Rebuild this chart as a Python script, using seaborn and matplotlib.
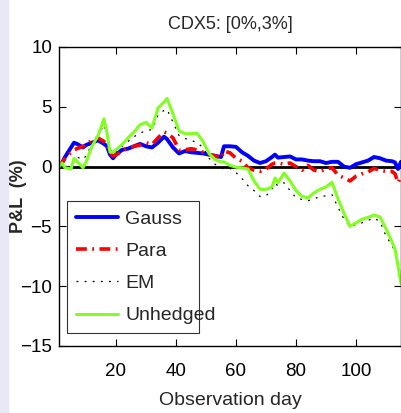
import matplotlib
matplotlib.use("Agg")
import matplotlib.pyplot as plt
import seaborn as sns
import pandas as pd

# observation days and P&L (%)
days = [1, 2, 3, 5, 6, 7, 9, 10, 12, 14, 16, 17, 18, 19, 20, 22, 24, 26, 28, 30,
        32, 34, 36, 37, 39, 41, 43, 45, 47, 49, 51, 53, 55, 56, 58, 60, 62, 64, 66, 68,
        70, 72, 73, 74, 76, 78, 80, 82, 84, 86, 88, 90, 92, 94, 96, 98, 100, 102, 104, 106,
        108, 110, 112, 113, 114, 115]

gauss = [0.0, 0.3, 0.8, 1.6, 2.0, 1.9, 1.6, 1.8, 2.0, 2.2, 1.9, 1.7, 1.0, 0.7, 1.0, 1.4, 1.5, 1.7, 1.9, 1.7,
         1.6, 2.0, 2.5, 2.3, 1.6, 1.1, 1.3, 1.2, 1.15, 1.1, 1.0, 0.9, 0.8, 1.7, 1.7, 1.65, 1.2, 0.9, 0.5, 0.3,
         0.45, 0.8, 1.0, 0.75, 0.8, 0.85, 0.6, 0.6, 0.5, 0.45, 0.45, 0.3, 0.4, 0.4, 0.0, -0.1, 0.2, 0.35, 0.5, 0.8,
         0.7, 0.5, 0.45, 0.35, -0.2, 0.4]

para = [0.0, 0.3, 0.7, 1.2, 1.4, 1.5, 1.7, 1.85, 2.2, 2.4, 2.1, 1.8, 1.2, 0.9, 1.0, 1.3, 1.55, 1.7, 1.8, 2.0,
        1.85, 2.4, 2.9, 2.8, 2.4, 1.4, 1.4, 1.5, 1.4, 1.2, 1.0, 0.9, 0.7, 1.3, 1.15, 0.7, 0.45, -0.1, -0.3, -0.4,
        -0.2, 0.2, 0.3, 0.3, 0.2, 0.3, 0.0, -0.3, 0.1, -0.3, -0.4, -0.2, -0.1, -0.7, -0.95, -1.2, -0.8, -0.6, -0.45, -0.15,
        -0.3, -0.4, -0.4, -0.6, -1.35, -0.8]

em = [0.0, 0.1, -0.1, 0.2, 0.4, 0.8, 0.6, 0.9, 1.9, 2.6, 3.5, 2.6, 1.7, 1.0, 1.2, 1.7, 2.1, 2.5, 2.8, 3.0,
      3.1, 4.3, 4.7, 4.8, 3.7, 2.6, 2.35, 2.2, 2.0, 1.6, 0.7, 0.2, -0.1, -0.2, -0.15, -0.5, -1.0, -1.6, -2.0, -2.5,
      -2.45, -1.9, -1.4, -1.6, -1.35, -2.0, -2.6, -2.75, -2.85, -2.7, -2.5, -2.45, -2.35, -3.4, -4.4, -5.0, -4.85, -4.7, -4.5, -4.3,
      -4.6, -5.8, -6.6, -7.1, -7.9, -9.5]

unhedged = [0.0, 0.3, -0.1, -0.2, 0.7, 0.45, -0.1, 0.4, 1.7, 2.6, 4.0, 2.8, 1.2, 1.2, 1.4, 1.85, 2.4, 2.9, 3.5, 3.7,
            3.25, 4.9, 5.4, 5.7, 4.4, 3.0, 2.75, 2.75, 2.8, 2.1, 1.1, 0.6, 0.4, 0.4, 0.1, -0.05, -0.1, -0.2, -1.2, -1.9,
            -1.9, -1.7, -0.95, -1.35, -0.55, -1.2, -2.0, -2.5, -2.6, -2.2, -1.9, -1.7, -1.3, -2.7, -3.9, -5.0, -4.7, -4.4, -4.25, -4.05,
            -4.2, -5.2, -6.3, -6.9, -8.3, -9.8]

sns.set_style("ticks")
plt.rcParams["font.family"] = ["Liberation Sans", "DejaVu Sans"]

fig = plt.figure(figsize=(4.02, 4.13), dpi=100)
fig.patches.append(plt.Rectangle((0, 0), 8 / 402, 1, transform=fig.transFigure,
                                 color="#e8e8f6", zorder=-1))
ax = fig.add_axes([59 / 402, 1 - 346 / 413, 342 / 402, 299 / 413])

df = pd.DataFrame({"day": days, "Gauss": gauss, "Para": para, "EM": em, "Unhedged": unhedged})

ax.axhline(0, color="black", lw=2, zorder=1)
sns.lineplot(data=df, x="day", y="Gauss", ax=ax, color="#0000ff", lw=2.8, label="Gauss")
sns.lineplot(data=df, x="day", y="Para", ax=ax, color="#ff0000", lw=2.6,
             label="Para").lines[-1].set_dashes((3, 1.5, 0.5, 1.5))
sns.lineplot(data=df, x="day", y="EM", ax=ax, color="black", lw=0.9, label="EM").lines[-1].set_dashes((1.5, 5))
sns.lineplot(data=df, x="day", y="Unhedged", ax=ax, color="#80ff20", lw=2.2, label="Unhedged")

ax.set_xlim(1, 115)
ax.set_ylim(-15, 10)
ax.set_xticks([20, 40, 60, 80, 100])
ax.set_yticks([-15, -10, -5, 0, 5, 10])
ax.set_yticklabels(["\u221215", "\u221210", "\u22125", "0", "5", "10"])
ax.tick_params(direction="in", length=5, width=0.8, top=True, right=True, labelsize=13.5, colors="black")
ax.tick_params(axis="x", pad=12)
ax.tick_params(axis="y", pad=5)
for s in ax.spines.values():
    s.set_visible(True)
    s.set_linewidth(1)
    s.set_color("black")

ax.set_title("CDX5: [0%,3%]", fontsize=13, pad=13)
ax.set_xlabel("Observation day", fontsize=14, labelpad=9)
ax.set_ylabel("P&L  (%)", fontsize=13, fontweight="bold")
ax.yaxis.set_label_coords(-0.095, 0.5)

leg = ax.legend(loc="lower left", bbox_to_anchor=(0.023, 0.043, 0.387, 0.452), mode="expand",
                fontsize=14, frameon=True, fancybox=False, borderaxespad=0,
                handlelength=2.2, labelspacing=0.75, borderpad=0.45, handletextpad=0.35)
leg.get_frame().set_edgecolor("black")
leg.get_frame().set_linewidth(0.8)

fig.savefig("out.png", dpi=100, facecolor="white")
